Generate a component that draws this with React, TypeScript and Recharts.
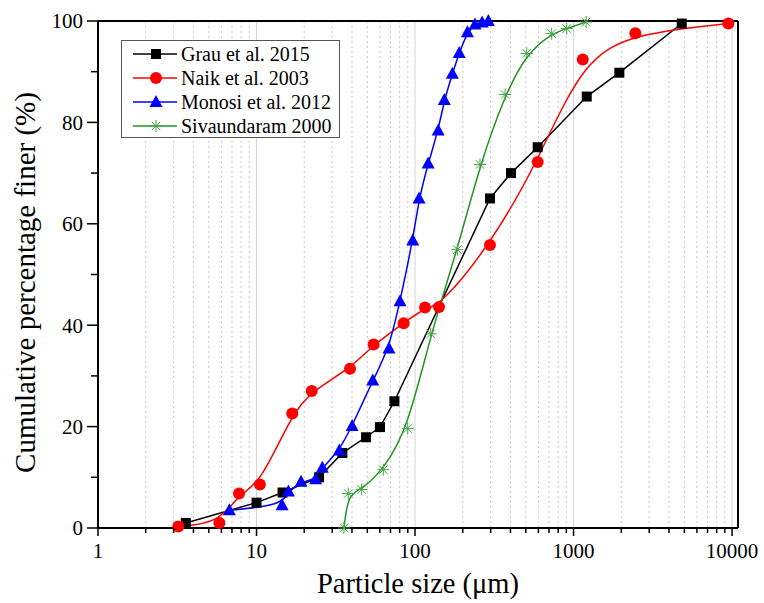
import React from 'react';
import { LineChart, Line, XAxis, YAxis, ReferenceLine, Legend } from 'recharts';

const FONT = '"Liberation Serif", "Times New Roman", serif';

// ---- data (particle size in µm, cumulative % finer) ----
const grauSize = [3.58, 10.0, 14.6, 24.8, 34.8, 49.1, 60.1, 74.1, 297, 403, 594, 1211, 1945, 4815];
const grauPct = [1.0, 5.0, 7.0, 10.0, 14.8, 17.9, 19.9, 25.0, 65.0, 70.0, 75.1, 85.1, 89.8, 99.5];

const naikSize = [3.21, 5.83, 7.76, 10.5, 16.8, 22.3, 38.9, 54.8, 84.8, 115.7, 141.7, 297, 594, 1143, 2455, 9480];
const naikPct = [0.3, 1.0, 6.8, 8.6, 22.6, 27.0, 31.4, 36.2, 40.4, 43.5, 43.6, 55.8, 72.2, 92.4, 97.6, 99.5];

const monosiSize = [6.74, 14.5, 15.9, 19.1, 23.6, 26.0, 33.3, 40.1, 54.1, 68.5, 80.4, 96.7, 106, 121, 140, 153, 172, 190, 214, 239, 265, 290];
const monosiPct = [3.5, 4.5, 7.2, 9.1, 9.6, 11.9, 15.3, 20.1, 29.1, 35.4, 44.7, 56.7, 65.0, 71.9, 78.4, 84.4, 89.6, 93.7, 97.8, 99.3, 99.7, 100];

const sivaSize = [35.6, 37.9, 46.1, 63.1, 89.9, 125.6, 185, 257, 370, 507, 728, 906, 1200];
const sivaPct = [0, 6.8, 7.6, 11.5, 19.6, 38.3, 54.9, 71.7, 85.5, 93.6, 97.5, 98.5, 99.8];

const seriesNames = ['Grau et al. 2015', 'Naik et al. 2003', 'Monosi et al. 2012', 'Sivaundaram 2000'];

const xMajorTicks = [1, 10, 100, 1000, 10000];
const xMinorTicks = [
  2, 3, 4, 5, 6, 7, 8, 9,
  20, 30, 40, 50, 60, 70, 80, 90,
  200, 300, 400, 500, 600, 700, 800, 900,
  2000, 3000, 4000, 5000, 6000, 7000, 8000, 9000,
];
const yMajorTicks = [0, 20, 40, 60, 80, 100];
const yMinorTicks = [10, 30, 50, 70, 90];
const X_MIN = 1;
const X_MAX = 10900;

const toPoints = (xs: number[], ys: number[]) => xs.map((x, i) => ({ x, y: ys[i] }));

type MarkerKind = 'square' | 'circle' | 'triangle' | 'star';

const series = [
  { name: seriesNames[0], data: toPoints(grauSize, grauPct), color: '#000000', markerColor: '#000000', curve: 'linear', marker: 'square' as MarkerKind },
  { name: seriesNames[1], data: toPoints(naikSize, naikPct), color: '#ff0000', markerColor: '#ff0000', curve: 'basis', marker: 'circle' as MarkerKind },
  { name: seriesNames[2], data: toPoints(monosiSize, monosiPct), color: '#0000ff', markerColor: '#0000ff', curve: 'basis', marker: 'triangle' as MarkerKind },
  { name: seriesNames[3], data: toPoints(sivaSize, sivaPct), color: '#229422', markerColor: '#45a545', curve: 'basis', marker: 'star' as MarkerKind },
];

const Marker = ({ cx, cy, kind, color }: { cx: number; cy: number; kind: MarkerKind; color: string }) => {
  if (cx == null || cy == null) return <g />;
  if (kind === 'square') {
    return <rect x={cx - 5} y={cy - 5} width={10} height={10} fill={color} />;
  }
  if (kind === 'circle') {
    return <circle cx={cx} cy={cy} r={6} fill={color} />;
  }
  if (kind === 'triangle') {
    return <polygon points={`${cx},${cy - 7} ${cx + 6.5},${cy + 5} ${cx - 6.5},${cy + 5}`} fill={color} />;
  }
  const r = 6;
  const d = r * 0.707;
  return (
    <g stroke={color} strokeWidth={1}>
      <line x1={cx} y1={cy - r} x2={cx} y2={cy + r} />
      <line x1={cx - r} y1={cy} x2={cx + r} y2={cy} />
      <line x1={cx - d} y1={cy - d} x2={cx + d} y2={cy + d} />
      <line x1={cx - d} y1={cy + d} x2={cx + d} y2={cy - d} />
    </g>
  );
};

const XTick = (props: any) => {
  const { x, y, payload } = props;
  const v = payload.value;
  const major = xMajorTicks.includes(v);
  return (
    <g>
      <line x1={x} x2={x} y1={y} y2={y + (major ? 8 : 5)} stroke="#000" strokeWidth={1.5} />
      {major && (
        <text x={x} y={y + 30} textAnchor="middle" fontSize={21} fontFamily={FONT} fill="#000">
          {v}
        </text>
      )}
    </g>
  );
};

const YTick = (props: any) => {
  const { x, y, payload } = props;
  const v = payload.value;
  const major = yMajorTicks.includes(v);
  return (
    <g>
      <line x1={x - (major ? 11 : 7)} x2={x} y1={y} y2={y} stroke="#000" strokeWidth={1.5} />
      {major && (
        <text x={x - 15} y={y} dy="0.35em" textAnchor="end" fontSize={21} fontFamily={FONT} fill="#000">
          {v}
        </text>
      )}
    </g>
  );
};

const YTitle = (p: any) => {
  const vb = p.viewBox || { x: 0, y: 21, width: 98, height: 507 };
  const cx = vb.x + 25;
  const cy = vb.y + vb.height / 2 + 8;
  return (
    <text
      x={cx}
      y={cy}
      transform={`rotate(-90, ${cx}, ${cy})`}
      textAnchor="middle"
      dominantBaseline="central"
      fontSize={29}
      fontFamily={FONT}
      fill="#000"
    >
      Cumulative percentage finer (%)
    </text>
  );
};

const XTitle = (p: any) => {
  const vb = p.viewBox || { x: 98, y: 528, width: 640, height: 60 };
  return (
    <text x={vb.x + vb.width / 2} y={vb.y + 65} textAnchor="middle" fontSize={28.5} fontFamily={FONT} fill="#000">
      Particle size (μm)
    </text>
  );
};

const LegendBox = () => (
  <div
    style={{
      width: 219,
      height: 98,
      boxSizing: 'border-box',
      border: '1px solid #555',
      background: '#fff',
      paddingTop: 1,
      fontFamily: FONT,
      fontSize: 20,
      color: '#000',
    }}
  >
    {series.map((s) => (
      <div key={s.name} style={{ display: 'flex', alignItems: 'center', height: 24 }}>
        <svg width={48} height={24} style={{ marginLeft: 11, display: 'block' }}>
          <line x1={0} x2={44} y1={12} y2={12} stroke={s.color} strokeWidth={1.5} />
          <Marker cx={23} cy={12} kind={s.marker} color={s.markerColor} />
        </svg>
        <span style={{ whiteSpace: 'nowrap', lineHeight: '24px' }}>{s.name}</span>
      </div>
    ))}
  </div>
);

export default function App() {
  return (
    <div style={{ position: 'absolute', left: 0, top: 0, background: '#fff' }}>
      <LineChart width={764} height={603} margin={{ top: 21, right: 26, bottom: 15, left: 0 }}>
        {xMinorTicks.map((v) => (
          <ReferenceLine key={`gm-${v}`} x={v} stroke="#c8c8c8" strokeWidth={1} strokeDasharray="2 3" />
        ))}
        {xMajorTicks.slice(1).map((v) => (
          <ReferenceLine key={`gM-${v}`} x={v} stroke="#d4d4d4" strokeWidth={1} />
        ))}
        <XAxis
          dataKey="x"
          type="number"
          scale="log"
          domain={[X_MIN, X_MAX]}
          ticks={[...xMajorTicks, ...xMinorTicks].sort((a, b) => a - b)}
          interval={0}
          tickSize={0}
          tickMargin={0}
          tickLine={false}
          axisLine={{ stroke: '#000', strokeWidth: 2 }}
          tick={(p: any) => <XTick {...p} />}
          height={60}
          label={(p: any) => <XTitle {...p} />}
        />
        <YAxis
          type="number"
          domain={[0, 100]}
          ticks={[...yMajorTicks, ...yMinorTicks].sort((a, b) => a - b)}
          interval={0}
          tickSize={0}
          tickMargin={0}
          tickLine={false}
          axisLine={{ stroke: '#000', strokeWidth: 2 }}
          tick={(p: any) => <YTick {...p} />}
          width={98}
          label={(p: any) => <YTitle {...p} />}
        />
        <ReferenceLine y={100} stroke="#000" strokeWidth={2} />
        <ReferenceLine x={X_MAX} stroke="#000" strokeWidth={2} />
        {series.map((s) => (
          <Line
            key={s.name}
            name={s.name}
            data={s.data}
            dataKey="y"
            type={s.curve as any}
            stroke={s.color}
            strokeWidth={1.5}
            activeDot={false}
            isAnimationActive={false}
            dot={(p: any) => (
              <Marker key={`${s.name}-${p.index}`} cx={p.cx} cy={p.cy} kind={s.marker} color={s.markerColor} />
            )}
          />
        ))}
        <Legend
          layout="horizontal"
          verticalAlign="middle"
          align="center"
          wrapperStyle={{ left: 121, top: 40, width: 219, height: 98 }}
          content={() => <LegendBox />}
        />
      </LineChart>
    </div>
  );
}
